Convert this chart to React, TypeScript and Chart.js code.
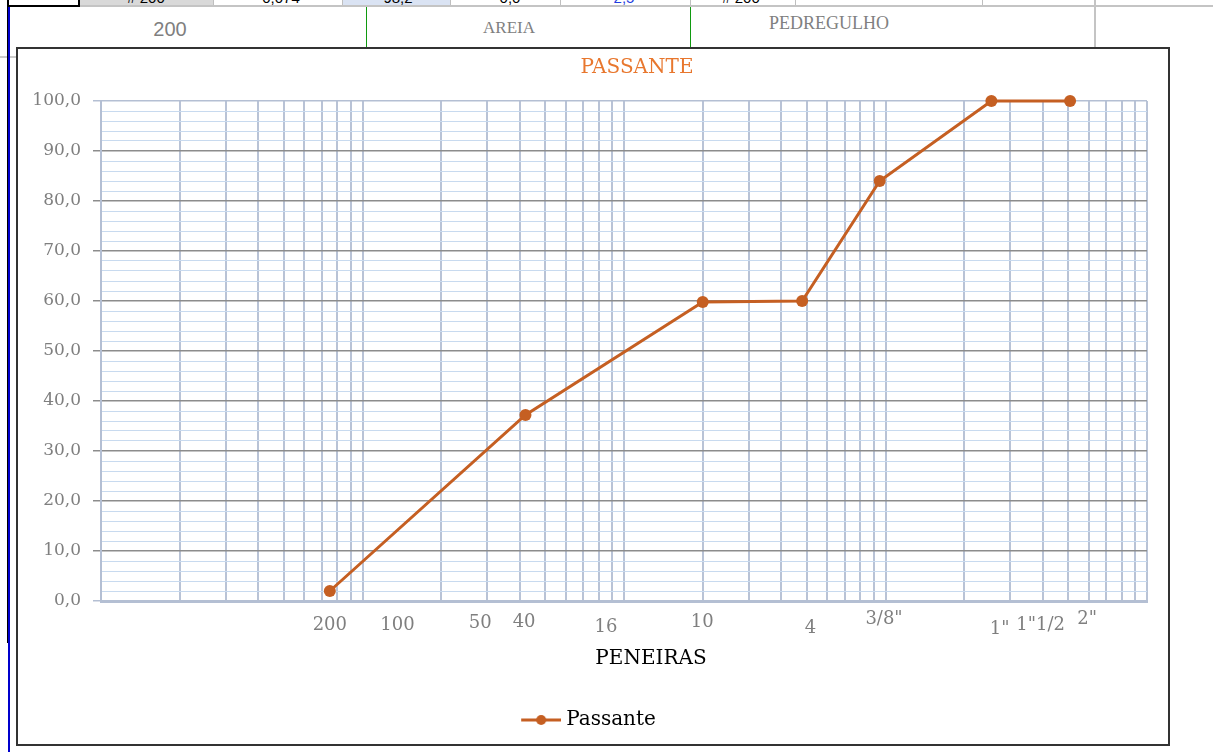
import React, { useEffect, useRef } from 'react';
import { Chart, registerables } from 'chart.js';

Chart.register(...registerables);

// ---------------- data ----------------
const seriesName = 'Passante';
const chartTitle = 'PASSANTE';
const xAxisTitle = 'PENEIRAS';
// sieve openings (mm) of the plotted points
const sieveOpeningsMm = [0.075, 0.42, 2.0, 4.8, 9.5, 25.4, 50.8];
// percent passing
const passingPercent = [2.0, 37.2, 59.8, 60.0, 84.0, 100.0, 100.0];
// sieve labels along the x axis and the axis value (mm) where each label sits
const sieveTickLabels = ['200', '100', '50', '40', '16', '10', '4', '3/8"', '1"', '1"1/2', '2"'];
const sieveTickAtMm = [0.075, 0.136, 0.282, 0.415, 0.853, 1.99, 5.17, 9.87, 27.3, 39.2, 59.0];
// axis ranges / grid
const xMin = 0.01;
const xMax = 100;
const xDecades = [0.01, 0.1, 1, 10];
const xSubdivisions = [1, 2, 3, 4, 5, 6, 7, 8, 9];
const yMin = 0;
const yMax = 100;
const yMajorStep = 10;
const yMinorStep = 2;

// spreadsheet cells behind the chart
const rowTexts = ['200', 'AREIA', 'PEDREGULHO'];
const topRowTexts = ['# 200', '0,074', '98,2', '0,0', '2,5', '# 200'];

// ---------------- layout / style ----------------
const FONT = '"DejaVu Serif", serif';
const LINE_COLOR = '#c55f22';
const TITLE_COLOR = '#e8772e';
const AXIS_COLOR = '#b4bfd3';
const VGRID_COLOR = '#b9c3d6';
const MAJOR_COLOR = '#8c8c8c';
const MINOR_COLOR = '#c8daef';
const LABEL_COLOR = '#7f7f7f';
const CANVAS_W = 1150;
const CANVAS_H = 695;
const Y_AXIS_W = 83;
const X_AXIS_H = 70;
const TITLE_POS = { x: 619, y: 19 };
const AXIS_TITLE_POS = { x: 633, y: 610 };
const tickLabelDy = [24, 24, 22, 21, 26, 21, 27, 18, 28, 24, 18];
const topRowTextX = [146, 281, 398, 510, 624, 741];
const topRowTextColor = ['#000', '#000', '#000', '#000', '#1f3fe0', '#000'];
const topRowLinesX = [213, 342, 450, 560, 690, 795, 982];

function buildXGrid(): number[] {
  const v: number[] = [];
  xDecades.forEach((d) => xSubdivisions.forEach((m) => v.push(+(d * m).toPrecision(6))));
  v.push(xMax);
  return v;
}
function buildYGrid(): number[] {
  const v: number[] = [];
  for (let y = yMin; y <= yMax; y += yMinorStep) v.push(y);
  return v;
}

const overlayPlugin = {
  id: 'overlayText',
  afterDraw(chart: any) {
    const { ctx, chartArea, scales } = chart;
    const xs = scales.x;
    ctx.save();
    ctx.textAlign = 'center';
    ctx.textBaseline = 'middle';
    ctx.font = `20px ${FONT}`;
    ctx.fillStyle = TITLE_COLOR;
    ctx.fillText(chartTitle, TITLE_POS.x, TITLE_POS.y);
    ctx.font = `18px ${FONT}`;
    ctx.fillStyle = LABEL_COLOR;
    sieveTickLabels.forEach((t, i) => {
      ctx.fillText(t, xs.getPixelForValue(sieveTickAtMm[i]), chartArea.bottom + tickLabelDy[i]);
    });
    ctx.font = `20px ${FONT}`;
    ctx.fillStyle = '#000';
    ctx.fillText(xAxisTitle, AXIS_TITLE_POS.x, AXIS_TITLE_POS.y);
    ctx.restore();
  },
};

function legendImage(): HTMLCanvasElement {
  const img = document.createElement('canvas');
  img.width = 57;
  img.height = 12;
  const c = img.getContext('2d')!;
  c.strokeStyle = LINE_COLOR;
  c.lineWidth = 3;
  c.beginPath();
  c.moveTo(17, 6);
  c.lineTo(57, 6);
  c.stroke();
  c.fillStyle = LINE_COLOR;
  c.beginPath();
  c.arc(37, 6, 5, 0, Math.PI * 2);
  c.fill();
  return img;
}

function Abs(props: { l: number; t: number; w: number; h: number; bg?: string; style?: any; children?: any }) {
  return (
    <div
      style={{
        position: 'absolute',
        left: props.l,
        top: props.t,
        width: props.w,
        height: props.h,
        background: props.bg,
        ...(props.style || {}),
      }}
    >
      {props.children}
    </div>
  );
}

function CText(props: { cx: number; cy: number; font: string; size: number; color: string; text: string }) {
  const h = Math.round(props.size * 1.3);
  return (
    <div
      style={{
        position: 'absolute',
        left: props.cx - 200,
        width: 400,
        top: props.cy - h / 2,
        height: h,
        lineHeight: `${h}px`,
        textAlign: 'center',
        fontFamily: props.font,
        fontSize: props.size,
        color: props.color,
        whiteSpace: 'nowrap',
      }}
    >
      {props.text}
    </div>
  );
}

export default function App() {
  const ref = useRef<HTMLCanvasElement>(null);

  useEffect(() => {
    if (!ref.current) return;
    const xGrid = buildXGrid();
    const yGrid = buildYGrid();
    const hColor = (v: number) =>
      v === yMin || v === yMax ? AXIS_COLOR : v % yMajorStep === 0 ? MAJOR_COLOR : MINOR_COLOR;

    const chart = new Chart(ref.current, {
      type: 'scatter',
      data: {
        datasets: [
          {
            label: seriesName,
            data: sieveOpeningsMm.map((x, i) => ({ x, y: passingPercent[i] })),
            showLine: true,
            borderColor: LINE_COLOR,
            backgroundColor: LINE_COLOR,
            pointBackgroundColor: LINE_COLOR,
            pointBorderColor: LINE_COLOR,
            borderWidth: 3,
            pointRadius: 6,
            pointBorderWidth: 0,
            tension: 0,
            clip: false as any,
          } as any,
        ],
      },
      options: {
        responsive: false,
        animation: false,
        devicePixelRatio: 1,
        events: [],
        layout: { padding: { top: 52, left: 0, right: CANVAS_W - 1129, bottom: 4 } },
        scales: {
          x: {
            type: 'logarithmic',
            min: xMin,
            max: xMax,
            afterBuildTicks: (s: any) => {
              s.ticks = xGrid.map((v) => ({ value: v }));
            },
            afterFit: (s: any) => {
              s.height = X_AXIS_H;
            },
            ticks: { display: false },
            grid: { color: VGRID_COLOR, lineWidth: 2, drawTicks: false },
            border: { color: AXIS_COLOR, width: 3 },
          },
          y: {
            type: 'linear',
            min: yMin,
            max: yMax,
            afterBuildTicks: (s: any) => {
              s.ticks = yGrid.map((v) => ({ value: v }));
            },
            afterFit: (s: any) => {
              s.width = Y_AXIS_W;
            },
            ticks: {
              autoSkip: false,
              padding: 12,
              color: LABEL_COLOR,
              font: { family: FONT, size: 17 },
              callback: (v: any) => (Number(v) % yMajorStep === 0 ? Number(v).toFixed(1).replace('.', ',') : ''),
            },
            grid: {
              color: (c: any) => hColor(c.tick.value),
              lineWidth: (c: any) => (c.tick.value % yMajorStep === 0 ? 1.5 : 1),
              tickLength: 8,
              tickColor: (c: any) => (c.tick.value % yMajorStep === 0 ? hColor(c.tick.value) : 'rgba(0,0,0,0)'),
            },
            border: { color: AXIS_COLOR, width: 2 },
          },
        },
        plugins: {
          title: { display: false },
          tooltip: { enabled: false },
          legend: {
            display: true,
            position: 'bottom',
            labels: {
              usePointStyle: true,
              pointStyle: legendImage() as any,
              pointStyleWidth: 47,
              padding: 39,
              color: '#000',
              font: { family: FONT, size: 20 },
            },
          },
        },
      } as any,
      plugins: [overlayPlugin],
    });
    return () => chart.destroy();
  }, []);

  return (
    <div
      style={{
        position: 'absolute',
        left: 0,
        top: 0,
        width: 1213,
        height: 752,
        overflow: 'hidden',
        background: '#fff',
      }}
    >
      {/* partially visible spreadsheet row at the very top */}
      <Abs l={80} t={0} w={133} h={6} bg="#d9d9d9" />
      <Abs l={342} t={0} w={108} h={6} bg="#dae3f3" />
      {topRowTexts.map((t, i) => (
        <div
          key={'tr' + i}
          style={{
            position: 'absolute',
            left: topRowTextX[i] - 60,
            width: 120,
            top: -10,
            height: 16,
            lineHeight: '16px',
            textAlign: 'center',
            fontFamily: '"Liberation Sans", Arial, sans-serif',
            fontSize: 15,
            color: topRowTextColor[i],
          }}
        >
          {t}
        </div>
      ))}
      {topRowLinesX.map((x, i) => (
        <Abs key={'tl' + i} l={x} t={0} w={1} h={6} bg="#bfbfbf" />
      ))}
      <Abs l={80} t={5} w={1133} h={2} bg="#c4c4c4" />
      <Abs l={7} t={-4} w={73} h={11} style={{ border: '2px solid #000', boxSizing: 'border-box', background: '#fff' }} />
      {/* second row */}
      <Abs l={1094} t={0} w={2} h={47} bg="#c4c4c4" />
      <Abs l={366} t={7} w={1} h={40} bg="#109a10" />
      <Abs l={690} t={7} w={1} h={40} bg="#109a10" />
      <Abs l={0} t={56} w={16} h={2} bg="#cccccc" />
      <CText cx={170} cy={29} font={'"Liberation Sans", Arial, sans-serif'} size={20} color="#7f7f7f" text={rowTexts[0]} />
      <CText cx={509} cy={28} font={'"Liberation Serif", serif'} size={17} color="#808080" text={rowTexts[1]} />
      <CText cx={829} cy={23} font={'"Liberation Serif", serif'} size={18} color="#808080" text={rowTexts[2]} />
      {/* left edge lines */}
      <Abs l={7} t={0} w={1} h={643} bg="#000" />
      <Abs l={8} t={7} w={2} h={745} bg="#0000cc" />
      {/* chart frame */}
      <div
        style={{
          position: 'absolute',
          left: 16,
          top: 47,
          width: 1154,
          height: 699,
          border: '2px solid #333',
          boxSizing: 'border-box',
          background: '#fff',
        }}
      >
        <canvas
          ref={ref}
          width={CANVAS_W}
          height={CANVAS_H}
          style={{ display: 'block', width: CANVAS_W, height: CANVAS_H }}
        />
      </div>
    </div>
  );
}
